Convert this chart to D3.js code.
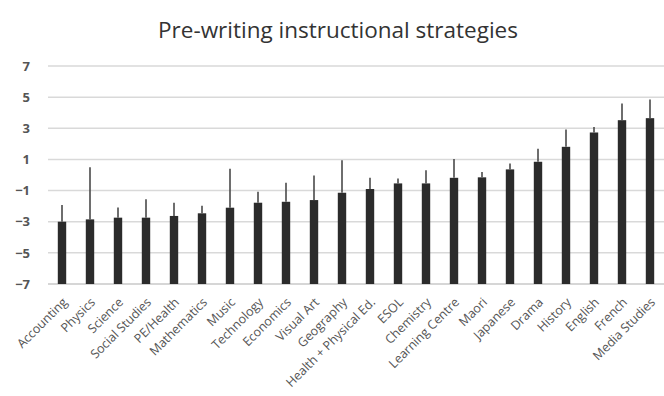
<!DOCTYPE html>
<html>
<head>
<meta charset="utf-8">
<script src="https://cdn.jsdelivr.net/npm/d3@7.8.5/dist/d3.min.js"></script>
<style>
  body { margin: 0; background: #fff; }
  svg { display: block; font-family: "Open Sans", "Noto Sans", sans-serif; }
</style>
</head>
<body>
<div id="chart"></div>
<script>
// Data
const subjects = ['Accounting', 'Physics', 'Science', 'Social Studies', 'PE/Health', 'Mathematics',
    'Music', 'Technology', 'Economics', 'Visual Art', 'Geography', 'Health + Physical Ed.',
    'ESOL', 'Chemistry', 'Learning Centre', 'Maori', 'Japanese', 'Drama', 'History',
    'English', 'French', 'Media Studies'];
const means = [-3.0, -2.85, -2.74, -2.74, -2.63, -2.46, -2.1, -1.78, -1.72, -1.61, -1.14, -0.9,
    -0.54, -0.54, -0.18, -0.15, 0.36, 0.85, 1.81, 2.73, 3.52, 3.65];
const errorTops = [-1.93, 0.49, -2.08, -1.56, -1.78, -1.97, 0.4, -1.08, -0.5, -0.03, 0.95, -0.18,
    -0.22, 0.31, 1.02, 0.2, 0.74, 1.68, 2.92, 3.09, 4.59, 4.85];
const yTicks = [7, 5, 3, 1, -1, -3, -5, -7];

const width = 664, height = 396;
const margin = { top: 66, left: 48, bottom: 112 };

const svg = d3.select('#chart')
    .append('svg')
    .attr('width', width)
    .attr('height', height);

const x = d3.scaleBand()
    .domain(subjects)
    .range([margin.left, margin.left + 22 * 28])
    .paddingInner(0.7)
    .paddingOuter(0.35);

const y = d3.scaleLinear()
    .domain([-7, 7])
    .range([height - margin.bottom, margin.top]);

// Title
svg.append('text')
    .attr('x', 338)
    .attr('y', 38)
    .attr('text-anchor', 'middle')
    .attr('font-size', 22.5)
    .attr('fill', '#333')
    .text('Pre-writing instructional strategies');

// Gridlines
svg.append('g')
    .selectAll('line')
    .data(yTicks)
    .enter()
    .append('line')
    .attr('x1', margin.left)
    .attr('x2', width)
    .attr('y1', d => y(d))
    .attr('y2', d => y(d))
    .attr('stroke', d => d === -7 ? '#c8c8c8' : '#d9d9d9')
    .attr('stroke-width', 1.5);

// Y axis labels
const yAxis = svg.append('g')
    .attr('transform', `translate(${margin.left}, 0)`)
    .call(d3.axisLeft(y).tickValues(yTicks).tickSize(0).tickPadding(18));
yAxis.select('.domain').remove();
yAxis.selectAll('text')
    .attr('font-size', 13)
    .attr('font-weight', 'bold')
    .attr('fill', '#555')
    .attr('font-family', '"Open Sans", sans-serif');

// Bars
svg.append('g')
    .selectAll('rect')
    .data(subjects)
    .enter()
    .append('rect')
    .attr('x', d => x(d))
    .attr('width', x.bandwidth())
    .attr('y', (d, i) => y(means[i]))
    .attr('height', (d, i) => y(-7) - y(means[i]))
    .attr('fill', '#2b2b2b');

// Error bars (upper only)
svg.append('g')
    .selectAll('line')
    .data(subjects)
    .enter()
    .append('line')
    .attr('x1', d => x(d) + x.bandwidth() / 2)
    .attr('x2', d => x(d) + x.bandwidth() / 2)
    .attr('y1', (d, i) => y(means[i]))
    .attr('y2', (d, i) => y(errorTops[i]))
    .attr('stroke', '#4a4a4a')
    .attr('stroke-width', 1.6);

// X axis labels
const xAxis = svg.append('g')
    .attr('transform', `translate(0, ${y(-7)})`)
    .call(d3.axisBottom(x).tickSize(0).tickPadding(0));
xAxis.select('.domain').remove();
xAxis.selectAll('text')
    .attr('font-size', 12.5)
    .attr('fill', '#555')
    .attr('font-family', '"Open Sans", sans-serif')
    .attr('text-anchor', 'end')
    .attr('dy', 0)
    .attr('transform', 'translate(6, 19) rotate(-45)');
</script>
</body>
</html>
